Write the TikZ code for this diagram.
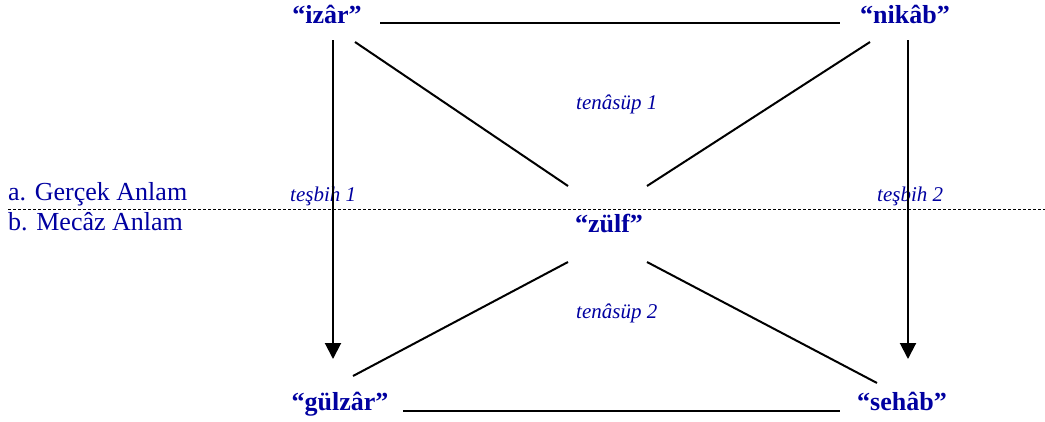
\documentclass[tikz,border=0pt]{standalone}
\usepackage{fontspec}
\setmainfont{Liberation Serif}
\usetikzlibrary{arrows.meta}
\definecolor{lbl}{RGB}{0,0,160}
\begin{document}
\begin{tikzpicture}[x=1pt,y=-1pt,
  word/.style={inner sep=0pt,anchor=base,text=lbl,font=\fontsize{26}{28}\selectfont\bfseries},
  side/.style={inner sep=0pt,anchor=base west,text=lbl,font=\fontsize{26}{28}\selectfont},
  rel/.style={inner sep=0pt,anchor=base west,text=lbl,font=\fontsize{21}{23}\selectfont\itshape},
  conn/.style={line width=2pt,black},
  arr/.style={conn,-{Triangle[width=16pt,length=16pt]}},
  sep/.style={line width=0.8pt,black,dash pattern=on 3pt off 2pt}]
\useasboundingbox (0,0) rectangle (1045,421);
% words
\node[word] (izar) at (327,23) {``izâr''};
\node[word] (nikab) at (905,23) {``nikâb''};
\node[word] (zulf) at (609,232) {``zülf''};
\node[word] (gulzar) at (340,410) {``gülzâr''};
\node[word] (sehab) at (902,410) {``sehâb''};
% side labels
\node[side] (gercek) at (8,200) {a. Gerçek Anlam};
\node[side] (mecaz) at (8,230) {b. Mecâz Anlam};
% relation labels
\node[rel] (tesbih1) at (290,201) {teşbih 1};
\node[rel] (tesbih2) at (877,201) {teşbih 2};
\node[rel] (tenasup1) at (576,109) {tenâsüp 1};
\node[rel] (tenasup2) at (576,318) {tenâsüp 2};
% separator
\coordinate (sepL) at (8,209);
\coordinate (sepR) at (1045,209);
\draw[sep] (sepL) -- (sepR);
% endpoints
\coordinate (t1) at (380,23);  \coordinate (t2) at (840,23);
\coordinate (b1) at (403,411); \coordinate (b2) at (840,411);
\coordinate (v1a) at (333,40); \coordinate (v1b) at (333,359);
\coordinate (v2a) at (908,40); \coordinate (v2b) at (908,359);
\coordinate (d1a) at (355,42); \coordinate (d1b) at (568,186);
\coordinate (d2a) at (870,42); \coordinate (d2b) at (647,186);
\coordinate (d3a) at (353,376); \coordinate (d3b) at (568,262);
\coordinate (d4a) at (877,383); \coordinate (d4b) at (647,262);
% connectors
\draw[conn] (t1) -- (t2);
\draw[conn] (b1) -- (b2);
\draw[arr] (v1a) -- (v1b);
\draw[arr] (v2a) -- (v2b);
\draw[conn] (d1a) -- (d1b);
\draw[conn] (d2a) -- (d2b);
\draw[conn] (d3a) -- (d3b);
\draw[conn] (d4a) -- (d4b);
\end{tikzpicture}
\end{document}
